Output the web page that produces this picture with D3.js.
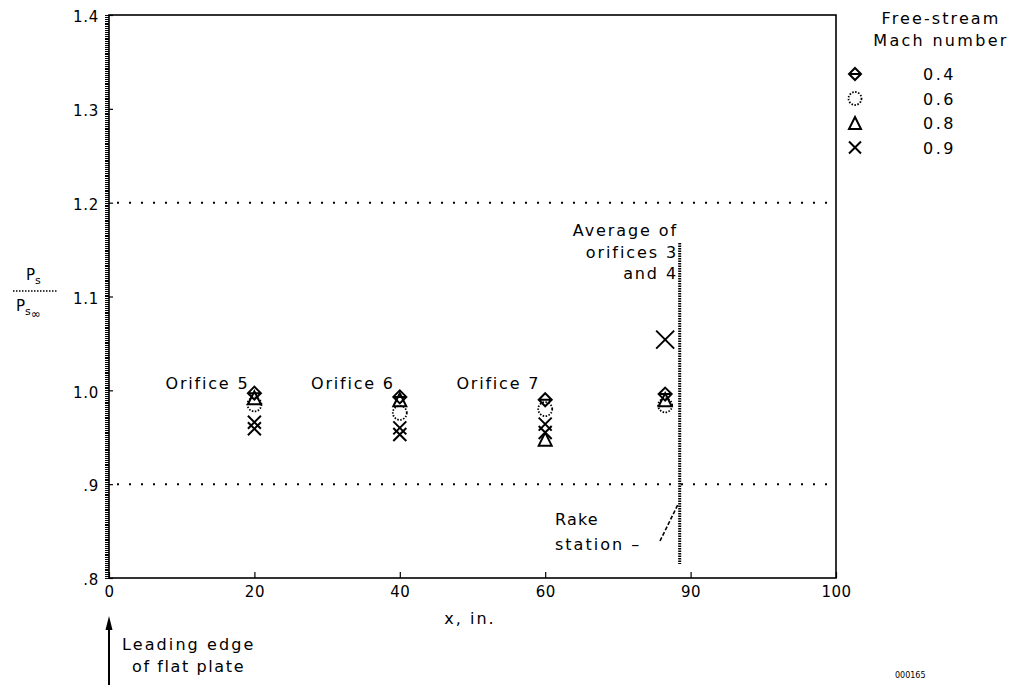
<!DOCTYPE html>
<html>
<head>
<meta charset="utf-8">
<script src="https://cdn.jsdelivr.net/npm/d3@7"></script>
<style>
  html, body { margin: 0; padding: 0; background: #fff; }
  svg { display: block; }
  text { font-family: "DejaVu Sans", "Liberation Sans", Arial, sans-serif; fill: #000; }
</style>
</head>
<body>
<div id="chart"></div>
<script>
// ---- data ----
const machNumbers = ["0.4", "0.6", "0.8", "0.9"];
const markerShapes = ["diamond", "circle", "triangle", "x"];
// x positions (axis units) of the orifices
const orificeX = [20, 40, 60, 76.5];
const orificeLabels = ["Orifice 5", "Orifice 6", "Orifice 7"];
// Ps/Ps_inf values per Mach number, one per orifice (5, 6, 7, average of 3 & 4)
const mach04 = [0.997, 0.993, 0.99, 0.996];
const mach06 = [0.985, 0.976, 0.98, 0.984];
const mach08 = [0.992, 0.99, 0.948, 0.99];
const mach09 = [0.966, 0.96, 0.964, 1.054];
// repeat points for M = 0.9
const mach09Extra = [[20, 0.959], [40, 0.953], [60, 0.955]];
const yTicks = [0.8, 0.9, 1.0, 1.1, 1.2, 1.3, 1.4];
const yTickLabels = [".8", ".9", "1.0", "1.1", "1.2", "1.3", "1.4"];
const xTicks = [0, 20, 40, 60, 80, 100];
const xTickLabels = ["0", "20", "40", "60", "90", "100"];
const refLines = [0.9, 1.2];
const rakeX = 78.5;
const rakeRange = [0.815, 1.157];

// ---- layout ----
const W = 1014, H = 685;
const L = 109, R = 836, T = 15, B = 578;
const FS = "16px";
const svg = d3.select("#chart").append("svg").attr("width", W).attr("height", H);

const x = d3.scaleLinear().domain([0, 100]).range([L, R]);
const y = d3.scaleLinear().domain([0.8, 1.4]).range([B, T]);

function txt(g, tx, ty, s, anchor, ls, fs) {
  return g.append("text").attr("x", tx).attr("y", ty)
    .attr("text-anchor", anchor || "start")
    .style("font-size", fs || FS).style("letter-spacing", (ls === undefined ? 1.6 : ls) + "px")
    .text(s);
}

// minor ticks on y axis (ruler)
const minor = d3.range(0.8, 1.4001, 0.002);
svg.append("g").attr("shape-rendering", "crispEdges").selectAll("line").data(minor).join("line")
  .attr("x1", L - 4.5).attr("x2", L).attr("y1", d => Math.round(y(d)) + 0.5).attr("y2", d => Math.round(y(d)) + 0.5)
  .attr("stroke", "#000").attr("stroke-width", 1);

// frame
svg.append("rect").attr("x", L).attr("y", T).attr("width", R - L).attr("height", B - T)
  .attr("fill", "none").attr("stroke", "#000").attr("stroke-width", 1.6);

// y axis
const yAxis = d3.axisLeft(y).tickValues(yTicks).tickFormat((d, i) => yTickLabels[i]).tickSizeInner(-4).tickSizeOuter(0).tickPadding(10);
const gy = svg.append("g").attr("transform", `translate(${L},0)`).call(yAxis);
gy.select(".domain").remove();
gy.selectAll("text").attr("font-family", "DejaVu Sans, Arial, sans-serif").style("font-size", "15px").style("letter-spacing", "0.7px").attr("dy", "0.45em");
gy.selectAll("line").attr("stroke-width", 1.2);

// x axis
const xAxis = d3.axisBottom(x).tickValues(xTicks).tickFormat((d, i) => xTickLabels[i]).tickSizeInner(-6).tickSizeOuter(0).tickPadding(8);
const gx = svg.append("g").attr("transform", `translate(0,${B})`).call(xAxis);
gx.select(".domain").remove();
gx.selectAll("text").attr("font-family", "DejaVu Sans, Arial, sans-serif").style("font-size", "15px").style("letter-spacing", "0.5px");
gx.selectAll("line").attr("stroke-width", 1.2);

// dotted reference lines
svg.append("g").selectAll("line").data(refLines).join("line")
  .attr("x1", L + 8).attr("x2", R).attr("y1", d => y(d)).attr("y2", d => y(d))
  .attr("stroke", "#000").attr("stroke-width", 2).attr("stroke-dasharray", "2,10");

// rake station line
svg.append("line").attr("x1", x(rakeX)).attr("x2", x(rakeX))
  .attr("y1", y(rakeRange[1])).attr("y2", y(rakeRange[0]))
  .attr("stroke", "#000").attr("stroke-width", 3).attr("stroke-dasharray", "1.5,1");

// markers
function markerPath(shape, s) {
  if (shape === "diamond") return `M0,${-s}L${s},0L0,${s}L${-s},0Z M${-s},0H${s}`;
  if (shape === "triangle") return `M0,${-s}L${s},${s}L${-s},${s}Z`;
  if (shape === "x") return `M${-s},${-s}L${s},${s}M${s},${-s}L${-s},${s}`;
  return null;
}
function drawMarker(g, shape, cx, cy, s) {
  s = s || 6.5;
  if (shape === "circle") {
    g.append("circle").attr("cx", cx).attr("cy", cy).attr("r", s + 0.5)
      .attr("fill", "none").attr("stroke", "#000").attr("stroke-width", 1.8).attr("stroke-dasharray", "1.5,1.5");
  } else {
    g.append("path").attr("d", markerPath(shape, s)).attr("transform", `translate(${cx},${cy})`)
      .attr("fill", "none").attr("stroke", "#000").attr("stroke-width", 2);
  }
}
const series = [mach04, mach06, mach08, mach09];
const gm = svg.append("g");
series.forEach((vals, si) => {
  vals.forEach((v, i) => drawMarker(gm, markerShapes[si], x(orificeX[i]), y(v), i === 3 && si === 3 ? 9 : 6.5));
});
mach09Extra.forEach(p => drawMarker(gm, "x", x(p[0]), y(p[1])));

// orifice labels
const ga = svg.append("g");
orificeLabels.forEach((s, i) => txt(ga, x(orificeX[i]) - 5, 389, s, "end", 1.8));

// average annotation
const avgLines = ["Average of", "orifices 3", "and 4"];
avgLines.forEach((s, i) => txt(ga, 678, 236 + i * 21.5, s, "end", 1.9));

// rake station annotation
txt(ga, 555, 525, "Rake", "start", 1.2);
txt(ga, 555, 550, "station \u2013", "start", 2);
svg.append("line").attr("x1", 660).attr("y1", 541).attr("x2", x(rakeX) - 2).attr("y2", 505)
  .attr("stroke", "#000").attr("stroke-width", 1.6).attr("stroke-dasharray", "4,2");

// axis titles
txt(svg, 470, 624, "x, in.", "middle", 2);

const yl = svg.append("g");
yl.append("text").attr("x", 26).attr("y", 280).style("font-size", "15px")
  .html('P<tspan dy="4" font-size="11">s</tspan>');
yl.append("line").attr("x1", 13).attr("x2", 58).attr("y1", 291).attr("y2", 291)
  .attr("stroke", "#000").attr("stroke-width", 1.5).attr("stroke-dasharray", "1.5,1.5");
yl.append("text").attr("x", 16).attr("y", 311).style("font-size", "15px")
  .html('P<tspan dy="4" font-size="11">s</tspan><tspan dy="3" font-size="12">\u221E</tspan>');

// leading edge annotation
svg.append("line").attr("x1", x(0)).attr("x2", x(0)).attr("y1", 685).attr("y2", 622)
  .attr("stroke", "#000").attr("stroke-width", 2);
svg.append("path").attr("d", `M${x(0)},616L${x(0) + 3.5},630L${x(0) - 3.5},630Z`).attr("fill", "#000");
txt(svg, 122, 650, "Leading edge", "start", 2.1);
txt(svg, 132, 672, "of flat plate", "start", 1.6);

// figure number
svg.append("text").attr("x", 895).attr("y", 678).style("font-size", "8px").text("000165");

// legend
const lg = svg.append("g");
txt(lg, 941, 24, "Free-stream", "middle", 2.1);
txt(lg, 941, 46, "Mach number", "middle", 2.3);
machNumbers.forEach((m, i) => {
  const cy = 74 + i * 24.5;
  drawMarker(lg, markerShapes[i], 855, cy, 6);
  txt(lg, 923, cy + 6, m, "start", 2.5);
});
</script>
</body>
</html>
